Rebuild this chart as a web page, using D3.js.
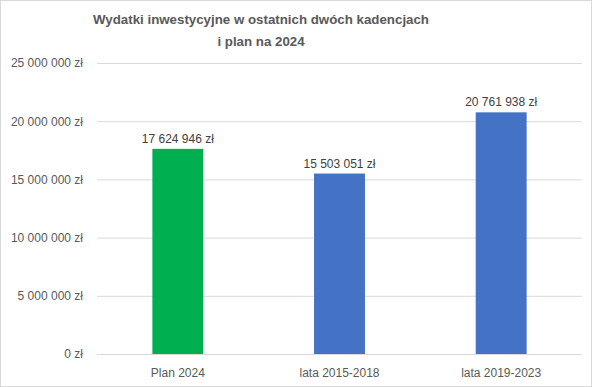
<!DOCTYPE html>
<html><head><meta charset="utf-8">
<script src="https://cdn.jsdelivr.net/npm/d3@7"></script>
<style>body{margin:0;background:#fff}svg{display:block}text{font-family:"Liberation Sans",Arial,sans-serif}</style>
</head><body><svg id="c" width="592" height="387"></svg>
<script>
const categories = ["Plan 2024", "lata 2015-2018", "lata 2019-2023"];
const values = [17624946, 15503051, 20761938];
const barColors = ["#00b050", "#4472c4", "#4472c4"];
const yTicks = [0, 5000000, 10000000, 15000000, 20000000, 25000000];
const titleLines = ["Wydatki inwestycyjne w ostatnich dwóch kadencjach", "i plan na 2024"];

const svg = d3.select("#c");
const W = 592, H = 387;
const plX0 = 97, plX1 = 582, plY0 = 63, plY1 = 354;

const loc = d3.formatLocale({decimal: ",", thousands: "\u00a0", grouping: [3], currency: ["", " zł"]});
const fmt = v => loc.format(",.0f")(v).replace(/\u00a0/g, " ") + " zł";

svg.append("rect").attr("x", 0.5).attr("y", 0.5).attr("width", W - 1).attr("height", H - 1)
  .attr("fill", "#fff").attr("stroke", "#d9d9d9");

const x = d3.scaleBand().domain(categories).range([plX0, plX1]).padding(0);
const y = d3.scaleLinear().domain([0, 25000000]).range([plY1, plY0]);

const yAxis = d3.axisLeft(y).tickValues(yTicks).tickSize(-(plX1 - plX0)).tickFormat(fmt).tickPadding(14);
const gy = svg.append("g").attr("transform", `translate(${plX0},0)`).call(yAxis);
gy.select(".domain").remove();
gy.selectAll(".tick line").attr("stroke", "#d9d9d9").attr("stroke-width", 1);
gy.selectAll(".tick text").attr("fill", "#595959").attr("font-size", 12);

const bw = x.bandwidth() * 0.315;
svg.append("g").selectAll("rect").data(values).join("rect")
  .attr("x", (d, i) => x(categories[i]) + x.bandwidth() / 2 - bw / 2)
  .attr("width", bw)
  .attr("y", d => y(d))
  .attr("height", d => y(0) - y(d))
  .attr("fill", (d, i) => barColors[i]);

svg.append("g").selectAll("text").data(values).join("text")
  .attr("x", (d, i) => x(categories[i]) + x.bandwidth() / 2)
  .attr("y", d => y(d) - 6)
  .attr("text-anchor", "middle").attr("fill", "#404040").attr("font-size", 12)
  .text(d => fmt(d));

const xAxis = d3.axisBottom(x).tickSize(0).tickPadding(14);
const gx = svg.append("g").attr("transform", `translate(0,${plY1})`).call(xAxis);
gx.select(".domain").remove();
gx.selectAll(".tick text").attr("fill", "#595959").attr("font-size", 12);

svg.append("g").selectAll("text").data(titleLines).join("text")
  .attr("x", 261).attr("y", (d, i) => 24 + i * 22)
  .attr("text-anchor", "middle").attr("fill", "#595959")
  .attr("font-size", 13.3).attr("font-weight", "bold")
  .text(d => d);
</script></body></html>
